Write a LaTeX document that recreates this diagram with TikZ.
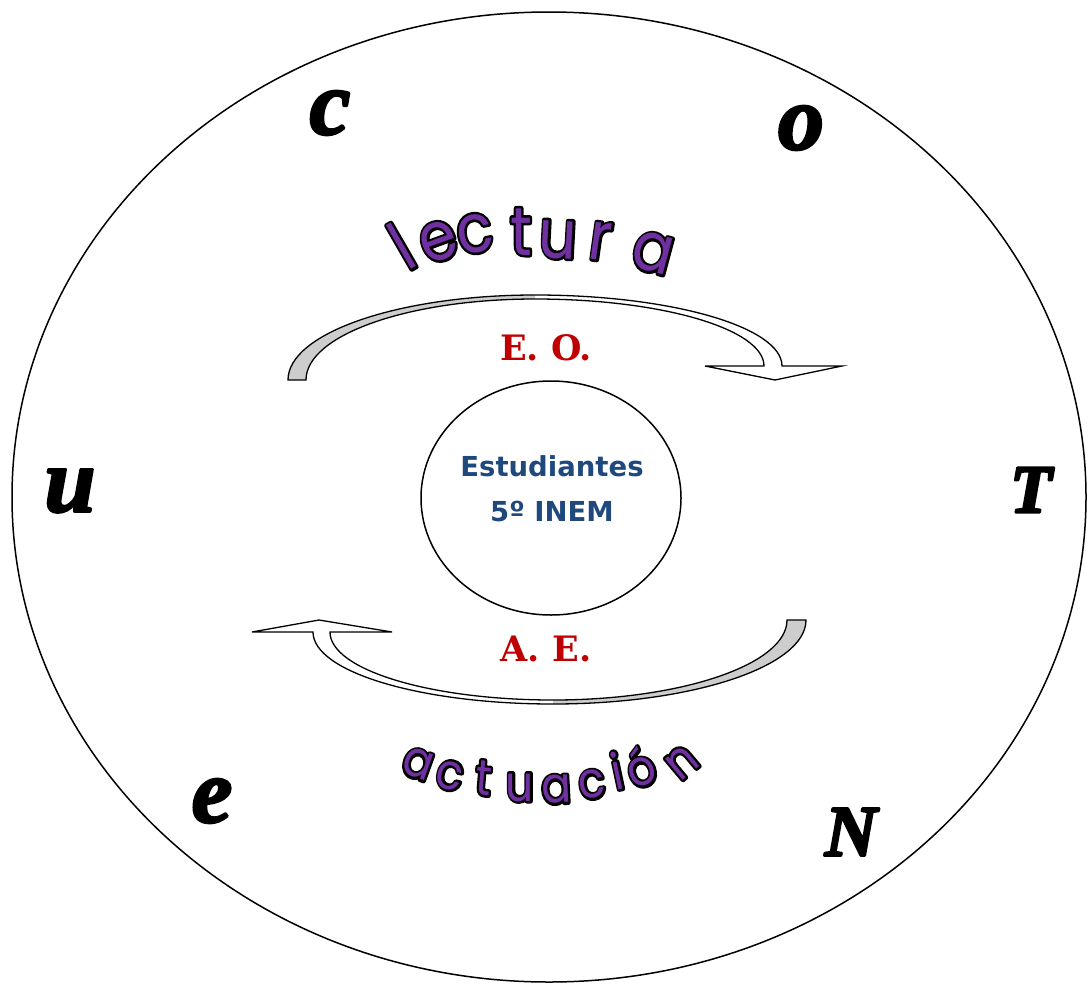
\documentclass[tikz,border=0pt]{standalone}
\usepackage{fontspec}
\usetikzlibrary{shapes.geometric,calc}
\newfontfamily\sansf{DejaVu Sans}
\newfontfamily\seriff{DejaVu Serif}
\newfontfamily\comicf{Poppins}
\newfontfamily\brushf{Liberation Serif}
\definecolor{estblue}{RGB}{31,73,125}
\definecolor{eored}{RGB}{192,0,0}
\definecolor{wpurple}{RGB}{112,48,160}
\definecolor{arrgray}{RGB}{205,205,205}
\newcommand\olt[1]{\rlap{\special{pdf:literal direct 0 0 0 RG 5 w 1 j 1 Tr}#1\special{pdf:literal direct 0 Tr}}#1}
\newcommand\heavy[1]{\special{pdf:literal direct 0 0 0 RG 2.5 w 1 j 2 Tr}#1\special{pdf:literal direct 0 Tr}}
\tikzset{
  wa1/.style={anchor=base,inner sep=0pt,text=wpurple,font=\comicf\fontsize{68}{72}\selectfont},
  wa2/.style={anchor=base,inner sep=0pt,text=wpurple,font=\comicf\fontsize{50}{56}\selectfont},
  bigl/.style={inner sep=0pt,font=\brushf\bfseries\itshape\fontsize{92}{100}\selectfont},
  bigT/.style={inner sep=0pt,font=\brushf\bfseries\itshape\fontsize{68}{70}\selectfont},
  redlab/.style={inner sep=0pt,text=eored,font=\seriff\bfseries\fontsize{35}{38}\selectfont},
  studtxt/.style={inner sep=0pt,align=center,text=estblue,font=\sansf\bfseries\fontsize{27.5}{45}\selectfont},
  arrline/.style={draw=black,line width=1.3pt,line join=miter},
}
\newcommand\outl[6]{% style, name, x, y, rot, text
  \node[#1,rotate=#5,xscale=0.88] (#2) at (#3,#4) {\olt{#6}};}
\begin{document}
\begin{tikzpicture}[x=1pt,y=-1pt]
\useasboundingbox (0,0) rectangle (1087,985);
% big ellipse and inner circle
\node[ellipse,draw,line width=1.5pt,minimum width=1074pt,minimum height=970pt,inner sep=0pt] (outer) at (549,497) {};
\node[ellipse,draw,line width=1.5pt,minimum width=260pt,minimum height=234pt,inner sep=0pt] (stud) at (551,498) {};
\node[studtxt] (st) at (552,489) {Estudiantes\\5º INEM};
% upper arrow
\fill[white] (288,380) .. controls (288,333) and (399,295) .. (535,295)
  .. controls (671,295) and (782,327) .. (782,366)
  -- (842,366) -- (775,380) -- (705,366) -- (764,366)
  .. controls (764,329) and (661.5,299) .. (535,299)
  .. controls (408.5,299) and (306,335) .. (306,380) -- cycle;
\fill[arrgray] (288,380) .. controls (288,333) and (399,295) .. (535,295)
  -- (535,299) .. controls (408.5,299) and (306,335) .. (306,380) -- cycle;
\draw[arrline] (288,380) .. controls (288,333) and (399,295) .. (535,295)
  .. controls (671,295) and (782,327) .. (782,366)
  -- (842,366) -- (775,380) -- (705,366) -- (764,366)
  .. controls (764,329) and (661.5,299) .. (535,299)
  .. controls (408.5,299) and (306,335) .. (306,380) -- cycle;
% lower arrow
\fill[white] (806,620) .. controls (806,666.4) and (692.7,704) .. (553,704)
  .. controls (420.4,704) and (313,671.8) .. (313,632)
  -- (252,632) -- (319,620) -- (392,632) -- (330,632)
  .. controls (330,669.6) and (429.8,700) .. (553,700)
  .. controls (682.2,700) and (787,664.2) .. (787,620) -- cycle;
\fill[arrgray] (806,620) .. controls (806,666.4) and (692.7,704) .. (553,704)
  -- (553,700) .. controls (682.2,700) and (787,664.2) .. (787,620) -- cycle;
\draw[arrline] (806,620) .. controls (806,666.4) and (692.7,704) .. (553,704)
  .. controls (420.4,704) and (313,671.8) .. (313,632)
  -- (252,632) -- (319,620) -- (392,632) -- (330,632)
  .. controls (330,669.6) and (429.8,700) .. (553,700)
  .. controls (682.2,700) and (787,664.2) .. (787,620) -- cycle;
% labels
\node[redlab] (eo) at (546,348) {E. O.};
\node[redlab] (ae) at (546,649) {A. E.};
% lectura
\outl{wa1}{l1}{414}{268}{30}{l}
\outl{wa1}{l2}{445}{259}{20}{e}
\outl{wa1}{l3}{478}{252}{10}{c}
\outl{wa1}{l4}{521}{255}{0}{t}
\outl{wa1}{l5}{557}{258}{-3}{u}
\outl{wa1}{l6}{598}{260}{-8}{r}
\outl{wa1}{l7}{648}{271}{-15}{a}
% actuacion
\outl{wa2}{a1}{413}{777}{-20}{a}
\outl{wa2}{a2}{447}{789}{-12}{c}
\outl{wa2}{a3}{482}{795}{-5}{t}
\outl{wa2}{a4}{520}{801}{0}{u}
\outl{wa2}{a5}{557}{803}{3}{a}
\outl{wa2}{a6}{594}{798}{8}{c}
\outl{wa2}{a7}{621}{789}{12}{i}
\outl{wa2}{a8}{647}{785}{20}{ó}
\outl{wa2}{a9}{691}{773}{40}{n}
% big letters
\node[bigl] (lc) at (330,113) {\heavy{c}};
\node[bigl] (lo) at (801,128) {\heavy{o}};
\node[bigl] (lu) at (70,491) {\heavy{u}};
\node[bigT] (lT) at (1031,490) {\heavy{T}};
\node[bigl] (le) at (212,801) {\heavy{e}};
\node[bigT,font=\brushf\bfseries\itshape\fontsize{72}{74}\selectfont] (lN) at (851,832) {\heavy{N}};
\end{tikzpicture}
\end{document}
